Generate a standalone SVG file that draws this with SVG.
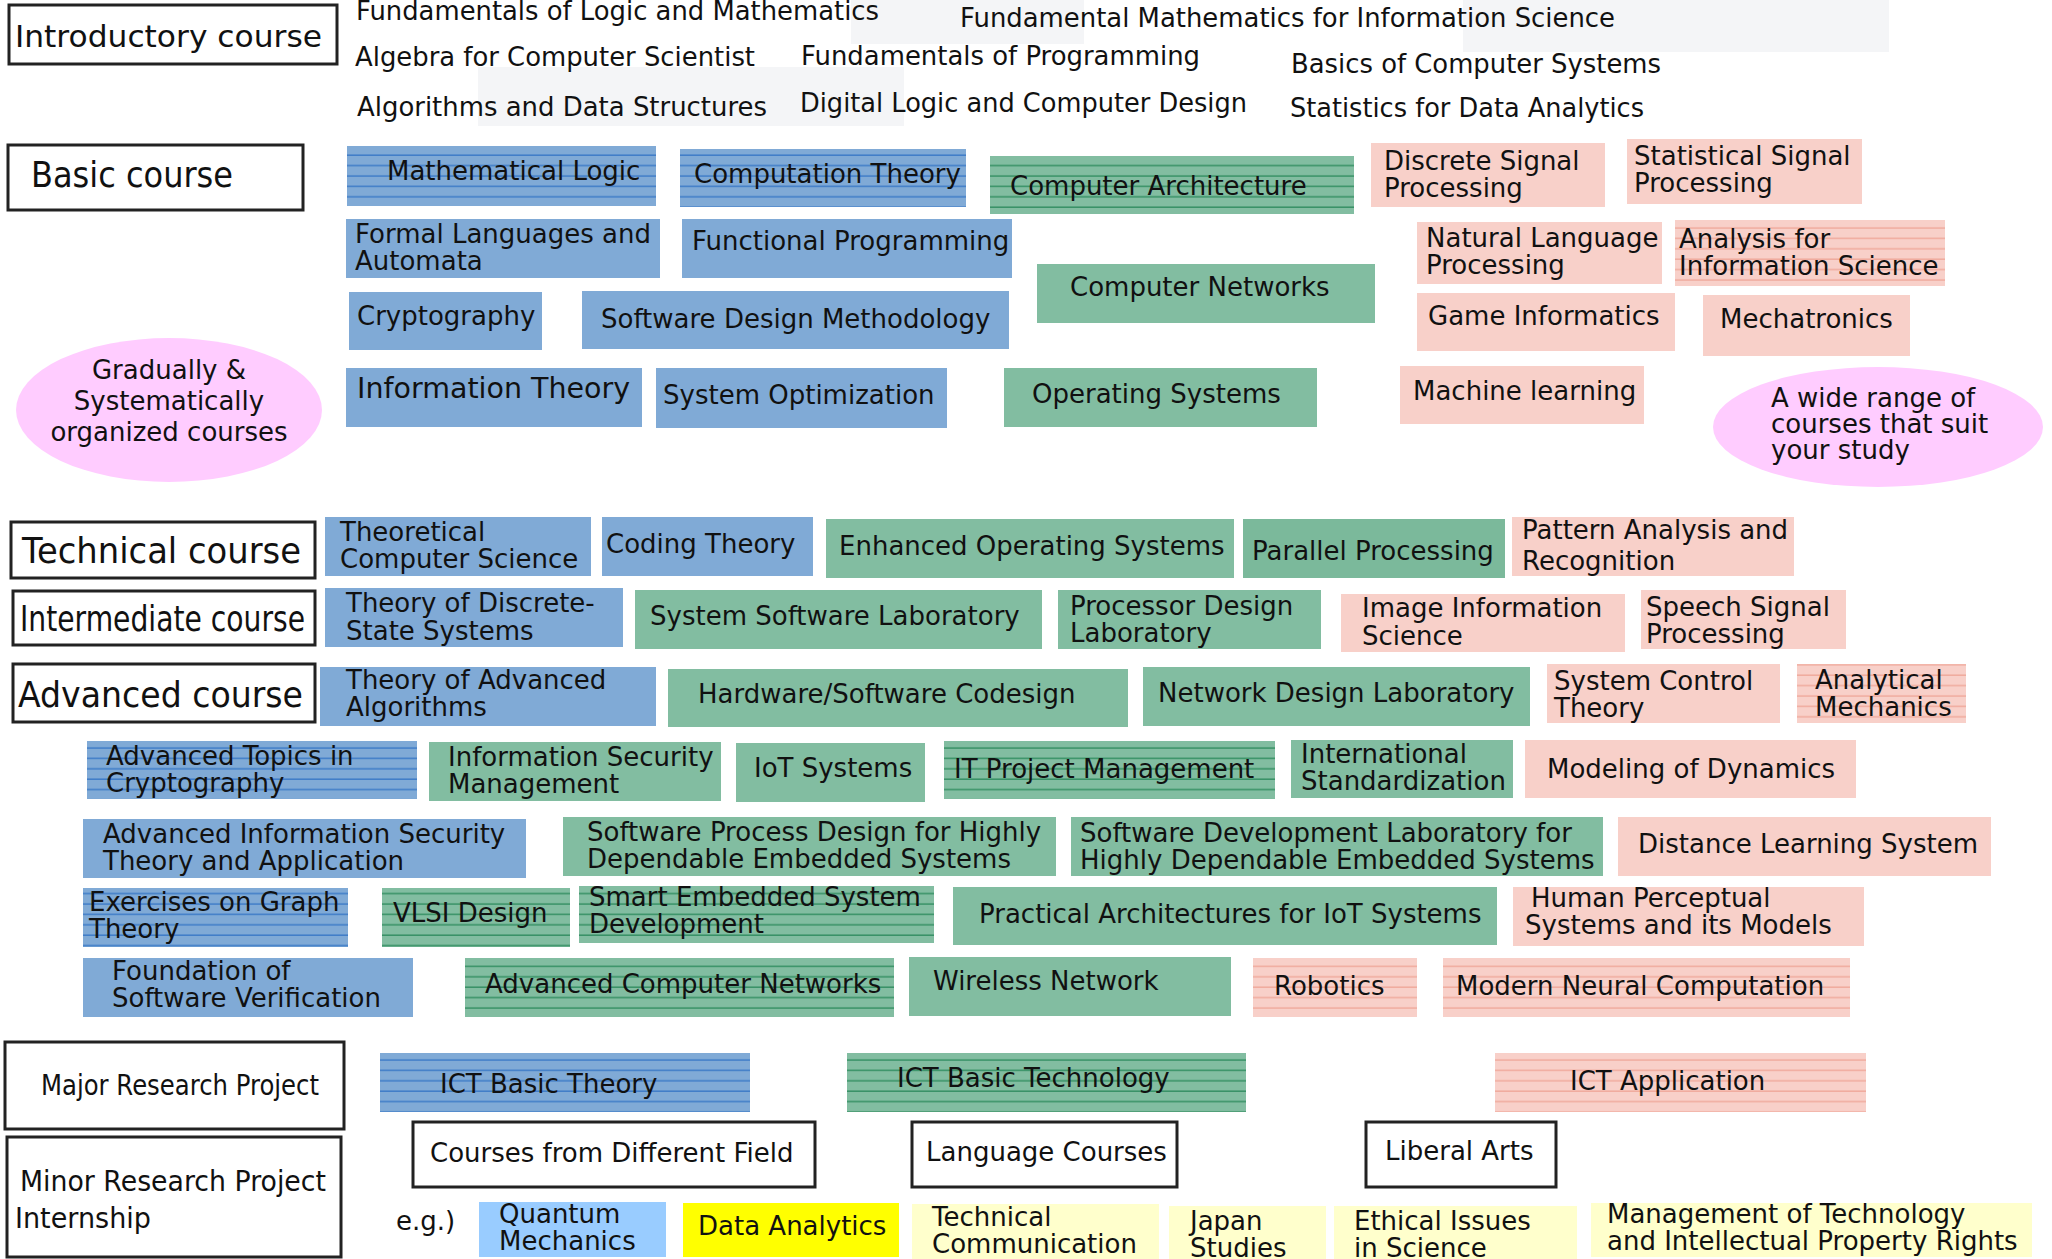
<svg xmlns="http://www.w3.org/2000/svg" width="2052" height="1259" viewBox="0 0 2052 1259">
<defs>
<pattern id="pb" width="8" height="10.4" patternUnits="userSpaceOnUse"><rect width="8" height="10.4" fill="#80aad6"/><line x1="0" y1="9.6" x2="8" y2="9.6" stroke="#3576c6" stroke-width="1.3"/></pattern>
<pattern id="pg" width="8" height="10.4" patternUnits="userSpaceOnUse"><rect width="8" height="10.4" fill="#82bda1"/><line x1="0" y1="9.6" x2="8" y2="9.6" stroke="#2b8a5c" stroke-width="1.3"/></pattern>
<pattern id="pp" width="8" height="10.4" patternUnits="userSpaceOnUse"><rect width="8" height="10.4" fill="#f8d0c9"/><line x1="0" y1="9.6" x2="8" y2="9.6" stroke="#efa597" stroke-width="1.3"/></pattern>
</defs>
<style>
text{font-family:"DejaVu Sans",Verdana,sans-serif;font-size:26px;fill:#111}
.b{fill:#80aad6}.g{fill:#82bda1}.p{fill:#f8d0c9}
.bl{fill:url(#pb)}.gl{fill:url(#pg)}.pl{fill:url(#pp)}
.lab{fill:#fff;stroke:#222;stroke-width:3}
.big{font-size:36px}
.nar{font-size:28px}
.ell{fill:#ffccff}
.gray{fill:#f4f5f7}
.mid{text-anchor:middle}
</style>
<rect width="2052" height="1259" fill="#fff"/>
<g id="background">
<rect class="gray" x="851" y="0" width="233" height="44"/>
<rect class="gray" x="1463" y="0" width="426" height="52"/>
<rect class="gray" x="478" y="67" width="426" height="59"/>
</g>
<g id="connectors"/>
<g id="introductory-courses">
<text x="356" y="20" textLength="523" lengthAdjust="spacingAndGlyphs">Fundamentals of Logic and Mathematics</text>
<text x="960" y="27" textLength="655" lengthAdjust="spacingAndGlyphs">Fundamental Mathematics for Information Science</text>
<text x="355" y="66" textLength="400" lengthAdjust="spacingAndGlyphs">Algebra for Computer Scientist</text>
<text x="801" y="65" textLength="399" lengthAdjust="spacingAndGlyphs">Fundamentals of Programming</text>
<text x="1291" y="73" textLength="370" lengthAdjust="spacingAndGlyphs">Basics of Computer Systems</text>
<text x="357" y="116" textLength="410" lengthAdjust="spacingAndGlyphs">Algorithms and Data Structures</text>
<text x="800" y="112" textLength="447" lengthAdjust="spacingAndGlyphs">Digital Logic and Computer Design</text>
<text x="1290" y="117" textLength="354" lengthAdjust="spacingAndGlyphs">Statistics for Data Analytics</text>
</g>
<g id="label-introductory"><rect class="lab" x="9" y="5" width="328" height="59"/><text x="15" y="47" style="font-size:31px" textLength="307" lengthAdjust="spacingAndGlyphs">Introductory course</text></g>
<g id="label-basic"><rect class="lab" x="8" y="145" width="295" height="65"/><text class="big" x="31" y="187" textLength="202" lengthAdjust="spacingAndGlyphs">Basic course</text></g>
<g id="label-technical"><rect class="lab" x="11" y="522" width="304" height="56"/><text class="big" x="22" y="563" textLength="279" lengthAdjust="spacingAndGlyphs">Technical course</text></g>
<g id="label-intermediate"><rect class="lab" x="13" y="591" width="302" height="54"/><text class="big" transform="translate(20,631) scale(0.783,1)" x="0" y="0">Intermediate course</text></g>
<g id="label-advanced"><rect class="lab" x="13" y="664" width="302" height="58"/><text class="big" x="18" y="707" textLength="285" lengthAdjust="spacingAndGlyphs">Advanced course</text></g>
<g id="label-major"><rect class="lab" x="5" y="1042" width="339" height="87"/><text class="nar" x="41" y="1095" textLength="278" lengthAdjust="spacingAndGlyphs">Major Research Project</text></g>
<g id="label-minor"><rect class="lab" x="7" y="1137" width="334" height="120"/><text class="nar" x="20" y="1191" style="font-size:29px" textLength="306" lengthAdjust="spacingAndGlyphs">Minor Research Project</text><text class="nar" x="15" y="1228" style="font-size:29px" textLength="136" lengthAdjust="spacingAndGlyphs">Internship</text></g>
<g id="ellipse-gradually"><ellipse class="ell" cx="169" cy="410" rx="153" ry="72"/><text class="mid" x="169" y="379">Gradually &amp;</text><text class="mid" x="169" y="410">Systematically</text><text class="mid" x="169" y="441">organized courses</text></g>
<g id="ellipse-wide"><ellipse class="ell" cx="1878" cy="427" rx="165" ry="60"/><text x="1771" y="407">A wide range of</text><text x="1771" y="433">courses that suit</text><text x="1771" y="459">your study</text></g>
<g id="mathematical-logic"><rect class="bl" x="347" y="146" width="309" height="60"/><text x="387" y="180">Mathematical Logic</text></g>
<g id="computation-theory"><rect class="bl" x="680" y="149" width="286" height="58"/><text x="694" y="183">Computation Theory</text></g>
<g id="computer-architecture"><rect class="gl" x="990" y="156" width="364" height="58"/><text x="1010" y="195">Computer Architecture</text></g>
<g id="discrete-signal-processing"><rect class="p" x="1371" y="143" width="234" height="64"/><text x="1384" y="170">Discrete Signal</text><text x="1384" y="197">Processing</text></g>
<g id="statistical-signal-processing"><rect class="p" x="1627" y="139" width="235" height="65"/><text x="1634" y="165">Statistical Signal</text><text x="1634" y="192">Processing</text></g>
<g id="formal-languages"><rect class="b" x="346" y="219" width="314" height="59"/><text x="355" y="243">Formal Languages and</text><text x="355" y="270">Automata</text></g>
<g id="functional-programming"><rect class="b" x="682" y="219" width="330" height="59"/><text x="692" y="250">Functional Programming</text></g>
<g id="computer-networks"><rect class="g" x="1037" y="264" width="338" height="59"/><text x="1070" y="296">Computer Networks</text></g>
<g id="natural-language-processing"><rect class="p" x="1417" y="222" width="245" height="62"/><text x="1426" y="247">Natural Language</text><text x="1426" y="274">Processing</text></g>
<g id="analysis-information-science"><rect class="pl" x="1675" y="220" width="270" height="66"/><text x="1679" y="248">Analysis for</text><text x="1679" y="275">Information Science</text></g>
<g id="cryptography"><rect class="b" x="349" y="292" width="193" height="58"/><text x="357" y="325">Cryptography</text></g>
<g id="software-design-methodology"><rect class="b" x="582" y="291" width="427" height="58"/><text x="601" y="328">Software Design Methodology</text></g>
<g id="game-informatics"><rect class="p" x="1417" y="293" width="258" height="58"/><text x="1428" y="325">Game Informatics</text></g>
<g id="mechatronics"><rect class="p" x="1703" y="295" width="207" height="61"/><text x="1720" y="328">Mechatronics</text></g>
<g id="information-theory"><rect class="b" x="346" y="368" width="296" height="59"/><text x="357" y="398" style="font-size:28.5px">Information Theory</text></g>
<g id="system-optimization"><rect class="b" x="656" y="368" width="291" height="60"/><text x="663" y="404">System Optimization</text></g>
<g id="operating-systems"><rect class="g" x="1004" y="368" width="313" height="59"/><text x="1032" y="403">Operating Systems</text></g>
<g id="machine-learning"><rect class="p" x="1400" y="366" width="244" height="58"/><text x="1413" y="400">Machine learning</text></g>
<g id="theoretical-cs"><rect class="b" x="325" y="517" width="266" height="59"/><text x="340" y="541">Theoretical</text><text x="340" y="568">Computer Science</text></g>
<g id="coding-theory"><rect class="b" x="602" y="517" width="211" height="59"/><text x="606" y="553">Coding Theory</text></g>
<g id="enhanced-os"><rect class="g" x="826" y="519" width="408" height="59"/><text x="839" y="555">Enhanced Operating Systems</text></g>
<g id="parallel-processing"><rect fill="#7bb99b" x="1243" y="519" width="262" height="59"/><text x="1252" y="560">Parallel Processing</text></g>
<g id="pattern-analysis"><rect class="p" x="1512" y="517" width="282" height="59"/><text x="1522" y="539">Pattern Analysis and</text><text x="1522" y="570">Recognition</text></g>
<g id="discrete-state-systems"><rect class="b" x="325" y="588" width="298" height="59"/><text x="346" y="612">Theory of Discrete-</text><text x="346" y="640">State Systems</text></g>
<g id="system-software-lab"><rect class="g" x="635" y="590" width="407" height="59"/><text x="650" y="625">System Software Laboratory</text></g>
<g id="processor-design-lab"><rect class="g" x="1058" y="590" width="263" height="59"/><text x="1070" y="615">Processor Design</text><text x="1070" y="642">Laboratory</text></g>
<g id="image-information-science"><rect class="p" x="1341" y="594" width="284" height="58"/><text x="1362" y="617">Image Information</text><text x="1362" y="645">Science</text></g>
<g id="speech-signal-processing"><rect class="p" x="1641" y="590" width="205" height="59"/><text x="1646" y="616">Speech Signal</text><text x="1646" y="643">Processing</text></g>
<g id="advanced-algorithms"><rect class="b" x="320" y="667" width="336" height="59"/><text x="346" y="689">Theory of Advanced</text><text x="346" y="716">Algorithms</text></g>
<g id="hw-sw-codesign"><rect class="g" x="668" y="669" width="460" height="58"/><text x="698" y="703">Hardware/Software Codesign</text></g>
<g id="network-design-lab"><rect class="g" x="1143" y="667" width="387" height="59"/><text x="1158" y="702">Network Design Laboratory</text></g>
<g id="system-control-theory"><rect class="p" x="1547" y="664" width="233" height="59"/><text x="1554" y="690">System Control</text><text x="1554" y="717">Theory</text></g>
<g id="analytical-mechanics"><rect class="pl" x="1797" y="664" width="169" height="59"/><text x="1815" y="689">Analytical</text><text x="1815" y="716">Mechanics</text></g>
<g id="advanced-topics-cryptography"><rect class="bl" x="87" y="741" width="330" height="58"/><text x="106" y="765">Advanced Topics in</text><text x="106" y="792">Cryptography</text></g>
<g id="information-security-management"><rect class="g" x="429" y="742" width="292" height="59"/><text x="448" y="766">Information Security</text><text x="448" y="793">Management</text></g>
<g id="iot-systems"><rect class="g" x="736" y="743" width="189" height="59"/><text x="754" y="777">IoT Systems</text></g>
<g id="it-project-management"><rect class="gl" x="944" y="741" width="331" height="58"/><text x="954" y="778">IT Project Management</text></g>
<g id="international-standardization"><rect class="g" x="1291" y="740" width="222" height="58"/><text x="1301" y="763">International</text><text x="1301" y="790">Standardization</text></g>
<g id="modeling-dynamics"><rect class="p" x="1525" y="740" width="331" height="58"/><text x="1547" y="778">Modeling of Dynamics</text></g>
<g id="advanced-information-security"><rect class="b" x="83" y="819" width="443" height="59"/><text x="103" y="843">Advanced Information Security</text><text x="103" y="870">Theory and Application</text></g>
<g id="software-process-design"><rect class="g" x="563" y="817" width="493" height="59"/><text x="587" y="841">Software Process Design for Highly</text><text x="587" y="868">Dependable Embedded Systems</text></g>
<g id="software-development-lab"><rect class="g" x="1071" y="817" width="532" height="59"/><text x="1080" y="842">Software Development Laboratory for</text><text x="1080" y="869">Highly Dependable Embedded Systems</text></g>
<g id="distance-learning"><rect class="p" x="1618" y="817" width="373" height="59"/><text x="1638" y="853">Distance Learning System</text></g>
<g id="graph-theory"><rect class="bl" x="83" y="888" width="265" height="59"/><text x="89" y="911">Exercises on Graph</text><text x="89" y="938">Theory</text></g>
<g id="vlsi-design"><rect class="gl" x="382" y="888" width="188" height="59"/><text x="393" y="922">VLSI Design</text></g>
<g id="smart-embedded"><rect class="gl" x="579" y="886" width="355" height="57"/><text x="589" y="906">Smart Embedded System</text><text x="589" y="933">Development</text></g>
<g id="practical-architectures-iot"><rect class="g" x="953" y="887" width="544" height="58"/><text x="979" y="923">Practical Architectures for IoT Systems</text></g>
<g id="human-perceptual"><rect class="p" x="1513" y="887" width="351" height="59"/><text x="1531" y="907">Human Perceptual</text><text x="1525" y="934">Systems and its Models</text></g>
<g id="software-verification"><rect class="b" x="83" y="958" width="330" height="59"/><text x="112" y="980">Foundation of</text><text x="112" y="1007">Software Verification</text></g>
<g id="advanced-computer-networks"><rect class="gl" x="465" y="958" width="429" height="59"/><text x="485" y="993">Advanced Computer Networks</text></g>
<g id="wireless-network"><rect class="g" x="909" y="957" width="322" height="59"/><text x="933" y="990">Wireless Network</text></g>
<g id="robotics"><rect class="pl" x="1253" y="958" width="164" height="59"/><text x="1274" y="995">Robotics</text></g>
<g id="modern-neural-computation"><rect class="pl" x="1443" y="958" width="407" height="59"/><text x="1456" y="995">Modern Neural Computation</text></g>
<g id="ict-basic-theory"><rect class="bl" x="380" y="1053" width="370" height="59"/><text x="440" y="1093">ICT Basic Theory</text></g>
<g id="ict-basic-technology"><rect class="gl" x="847" y="1053" width="399" height="59"/><text x="897" y="1087">ICT Basic Technology</text></g>
<g id="ict-application"><rect class="pl" x="1495" y="1053" width="371" height="59"/><text x="1570" y="1090">ICT Application</text></g>
<g id="courses-different-field"><rect class="lab" x="413" y="1122" width="402" height="65"/><text x="430" y="1162">Courses from Different Field</text></g>
<g id="language-courses"><rect class="lab" x="912" y="1122" width="265" height="65"/><text x="926" y="1161">Language Courses</text></g>
<g id="liberal-arts"><rect class="lab" x="1366" y="1122" width="190" height="65"/><text x="1385" y="1160">Liberal Arts</text></g>
<g id="eg"><text x="396" y="1230">e.g.)</text></g>
<g id="quantum-mechanics"><rect fill="#99ccff" x="479" y="1202" width="187" height="55"/><text x="499" y="1223">Quantum</text><text x="499" y="1250">Mechanics</text></g>
<g id="data-analytics"><rect fill="#ffff00" x="683" y="1203" width="216" height="54"/><text x="698" y="1235">Data Analytics</text></g>
<g id="technical-communication"><rect fill="#ffffcc" x="912" y="1204" width="247" height="55"/><text x="932" y="1226">Technical</text><text x="932" y="1253">Communication</text></g>
<g id="japan-studies"><rect fill="#ffffcc" x="1169" y="1206" width="157" height="53"/><text x="1190" y="1230">Japan</text><text x="1190" y="1257">Studies</text></g>
<g id="ethical-issues"><rect fill="#ffffcc" x="1334" y="1206" width="243" height="53"/><text x="1354" y="1230">Ethical Issues</text><text x="1354" y="1257">in Science</text></g>
<g id="management-technology"><rect fill="#ffffcc" x="1591" y="1203" width="441" height="54"/><text x="1607" y="1223">Management of Technology</text><text x="1607" y="1250">and Intellectual Property Rights</text></g>
</svg>
